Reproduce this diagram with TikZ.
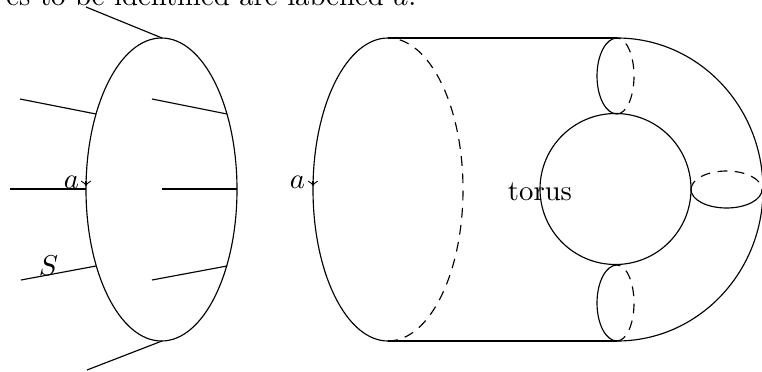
\documentclass[tikz,border=0pt]{standalone}
\begin{document}
\begin{tikzpicture}[x=0.3485pt,y=0.3485pt,
  surf/.style={line width=0.4pt},
  hid/.style={dashed, dash pattern=on 3.4pt off 2.6pt},
  arr/.style={->}]
\useasboundingbox (0,0) rectangle (762,371);
\clip (0,0) rectangle (762,371);
% caption fragment
\node[anchor=base east, inner sep=0pt] (cap) at (417,366) {es to be identified are labelled $a$.};
% ---------- left figure ----------
\draw[surf] (161.5,181.5) ellipse [x radius=75.5, y radius=151.5];
\coordinate (Ltop) at (162,333);
\coordinate (Lbot) at (162,30);
\draw (86,364) -- (Ltop);
\draw (Lbot) -- (87,1);
\draw (20,272) -- (96,257);
\draw (10,182) -- (86,182);
\draw (21,91) -- (96,105);
\draw (152,272) -- (227,257);
\draw (162,182) -- (237,182);
\draw (152,91) -- (227,105);
\draw[arr] (86,190) -- (86,185);
\node (a1) at (71.5,189) {$a$};
\node (S) at (48.5,105) {$S$};
% ---------- right figure ----------
\draw (388,333) arc [start angle=90, end angle=270, x radius=75, y radius=151.5];
\draw[hid] (388,30) arc [start angle=-90, end angle=90, x radius=75, y radius=151.5];
\draw (388,333) -- (617,333);
\draw (388,30) -- (617,30);
\draw (617,333) arc [start angle=90, end angle=-90, x radius=146, y radius=151.5];
\draw (615.5,182) circle [radius=75.5];
% top tube
\draw (617,333) arc [start angle=90, end angle=270, x radius=20, y radius=38];
\draw[hid] (617,257) arc [start angle=-90, end angle=90, x radius=17, y radius=38];
% bottom tube
\draw (617,106) arc [start angle=90, end angle=270, x radius=20, y radius=38];
\draw[hid] (617,30) arc [start angle=-90, end angle=90, x radius=17, y radius=38];
% right tube
\draw[hid] (691,181.5) arc [start angle=180, end angle=0, x radius=35.5, y radius=18.5];
\draw (691,181.5) arc [start angle=180, end angle=360, x radius=35.5, y radius=18.5];
\draw[arr] (313,190) -- (313,185);
\node (a2) at (297.5,189) {$a$};
\node[anchor=base] (tor) at (540,171) {torus};
\end{tikzpicture}
\end{document}
